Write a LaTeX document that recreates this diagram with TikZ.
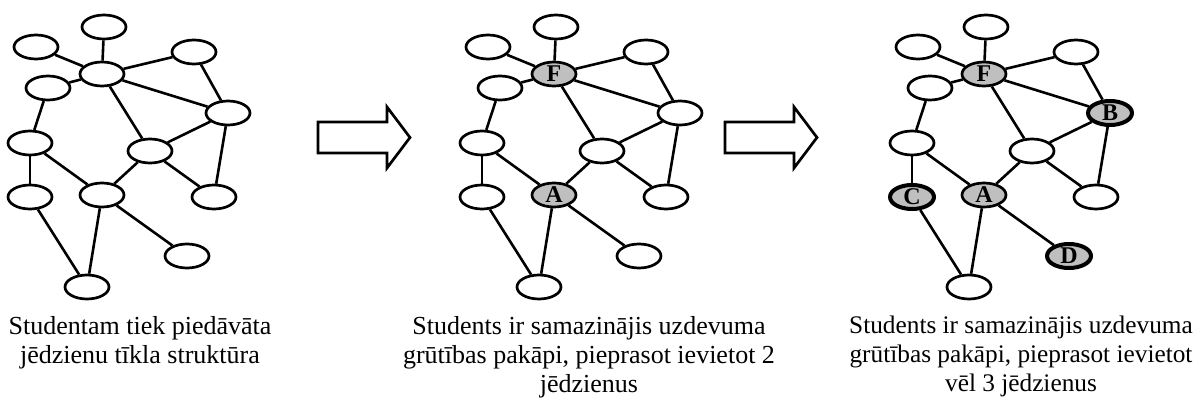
\documentclass[tikz,border=0pt]{standalone}
\usepackage{fontspec}
\setmainfont{Liberation Serif}
\usetikzlibrary{shapes.geometric}
\tikzset{
  concept/.style={ellipse, draw, line width=2.7pt, minimum width=44pt, minimum height=24pt, inner sep=0pt, fill=white},
  known/.style={concept, fill=black!25, text=black, font=\fontsize{24}{24}\selectfont\bfseries},
  added/.style={known, line width=4pt},
  link/.style={line width=2.6pt},
  bigarrow/.style={draw, line width=2.7pt, fill=white, line join=miter},
  caption/.style={anchor=north, align=center, inner sep=0pt, font=\fontsize{26}{29}\selectfont}
}
% #1 prefix, #2 shift, #3..#7 node specs for F, A, B, C, D
\newcommand\conceptnet[7]{%
  \begin{scope}[shift={(#2,0)}]
    \node[concept] (#1n1) at (104,27) {};
    \node[concept] (#1n2) at (36,47) {};
    \node[concept] (#1n3) at (194,52) {};
    \node (#1F) at (102,74) #3;
    \node[concept] (#1n5) at (48,88) {};
    \node (#1B) at (228,113) #5;
    \node[concept] (#1n7) at (30,143) {};
    \node[concept] (#1n8) at (150,151) {};
    \node (#1C) at (30,197) #6;
    \node (#1A) at (102,195) #4;
    \node[concept] (#1n11) at (214,197) {};
    \node (#1D) at (187,256) #7;
    \node[concept] (#1n13) at (87,287) {};
    \foreach \u/\v in {n2/F, n1/F, F/n3, F/n5, F/B, F/n8, n3/B, n5/n7, B/n8, B/n11,
                       n7/C, n7/A, n8/A, n8/n11, C/n13, A/n13, A/D}
      \draw[link] (#1\u) -- (#1\v);
  \end{scope}%
}
\begin{document}
\begin{tikzpicture}[x=1pt, y=-1pt]
  \useasboundingbox (0,0) rectangle (1200,401);
  \fill[white] (0,0) rectangle (1200,401);

  \conceptnet{a}{0}{[concept] {}}{[concept] {}}{[concept] {}}{[concept] {}}{[concept] {}}
  \conceptnet{b}{452}{[known] {F}}{[known] {A}}{[concept] {}}{[concept] {}}{[concept] {}}
  \conceptnet{c}{882}{[known] {F}}{[known] {A}}{[added] {B}}{[added] {C}}{[added] {D}}

  \draw[bigarrow] (318,122) -- (387,122) -- (387,107) -- (410,137.5) -- (387,168) -- (387,153) -- (318,153) -- cycle;
  \draw[bigarrow] (725,122) -- (794,122) -- (794,107) -- (817,137.5) -- (794,168) -- (794,153) -- (725,153) -- cycle;

  \node[caption] (cap1) at (140,316) {Studentam tiek piedāvāta\\jēdzienu tīkla struktūra};
  \node[caption] (cap2) at (589,316) {Students ir samazinājis uzdevuma\\grūtības pakāpi, pieprasot ievietot 2\\jēdzienus};
  \node[caption, font=\fontsize{25.3}{29}\selectfont] (cap3) at (1021,316) {Students ir samazinājis uzdevuma\\grūtības pakāpi, pieprasot ievietot\\vēl 3 jēdzienus};
\end{tikzpicture}
\end{document}
